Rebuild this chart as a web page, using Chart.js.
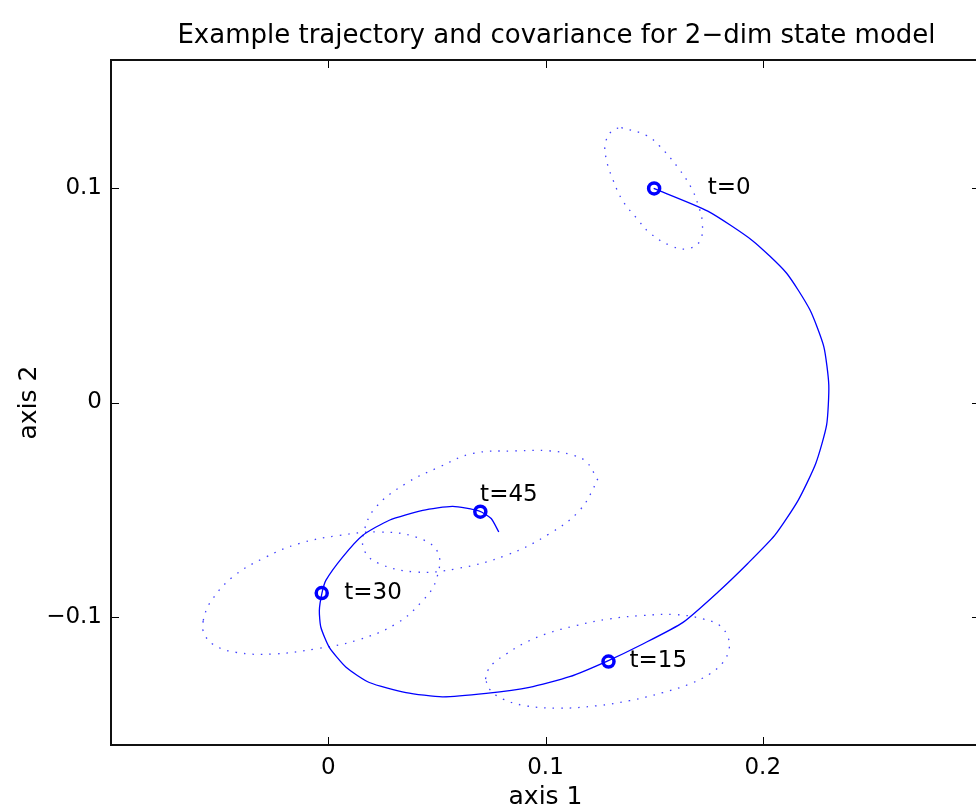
<!DOCTYPE html>
<html>
<head>
<meta charset="utf-8">
<script src="https://cdn.jsdelivr.net/npm/chart.js@4/dist/chart.umd.min.js"></script>
<style>
  html, body { margin: 0; padding: 0; background: #fff; overflow: hidden; }
  #wrap { width: 976px; height: 811px; overflow: hidden; }
</style>
</head>
<body>
<div id="wrap"><canvas id="chart" width="1091" height="811"></canvas></div>
<script>
// trajectory of the state (axis 1, axis 2)
var trajX = [0.1498, 0.1747, 0.1953, 0.2109, 0.2217, 0.2281, 0.2304, 0.2294, 0.2244, 0.2163,
  0.2055, 0.1931, 0.1802, 0.1633, 0.1448, 0.1282, 0.1111, 0.0926, 0.0727, 0.0525,
  0.0358, 0.0189, 0.0082, 0.0005, -0.0034, -0.0041, -0.0029, -0.0011, 0.0066, 0.0158,
  0.0281, 0.0435, 0.0573, 0.0696, 0.0750, 0.0785];
var trajY = [0.1000, 0.0894, 0.0756, 0.0605, 0.0433, 0.0261, 0.0082, -0.0105, -0.0285, -0.0457,
  -0.0621, -0.0752, -0.0878, -0.1027, -0.1128, -0.1209, -0.1281, -0.1331, -0.1359, -0.1375,
  -0.1355, -0.1308, -0.1237, -0.1144, -0.1050, -0.0972, -0.0891, -0.0831, -0.0722, -0.0621,
  -0.0550, -0.0504, -0.0485, -0.0508, -0.0542, -0.0605];

// marked time steps
var markX = [0.150, 0.129, -0.003, 0.070];
var markY = [0.100, -0.121, -0.089, -0.051];
var labelText = ["t=0", "t=15", "t=30", "t=45"];
var labelX = [0.1747, 0.1387, 0.0074, 0.0699];
var labelY = [0.100, -0.121, -0.089, -0.0433];

// covariance ellipses (dotted)
var ell0X = [0.1349, 0.1464, 0.1525, 0.1610, 0.1671, 0.1702, 0.1722, 0.1710, 0.1653, 0.1575,
  0.1479, 0.1418, 0.1356, 0.1310, 0.1280, 0.1276, 0.1310, 0.1349];
var ell0Y = [0.1284, 0.1248, 0.1198, 0.1097, 0.1003, 0.0925, 0.0839, 0.0753, 0.0718, 0.0733,
  0.0793, 0.0863, 0.0941, 0.1042, 0.1136, 0.1214, 0.1273, 0.1284];

var ell15X = [0.0724, 0.0734, 0.0765, 0.0819, 0.0895, 0.1003, 0.1141, 0.1295, 0.1448, 0.1602,
  0.1725, 0.1802, 0.1840, 0.1845, 0.1817, 0.1756, 0.1664, 0.1541, 0.1387, 0.1234,
  0.1065, 0.0911, 0.0803, 0.0742, 0.0724];
var ell15Y = [-0.1292, -0.1253, -0.1214, -0.1175, -0.1128, -0.1081, -0.1042, -0.1011, -0.0995, -0.0991,
  -0.1011, -0.1042, -0.1097, -0.1151, -0.1214, -0.1268, -0.1315, -0.1355, -0.1393, -0.1417,
  -0.1428, -0.1417, -0.1385, -0.1339, -0.1292];

var ell30X = [-0.0576, -0.0548, -0.0441, -0.0287, -0.0134, 0.0051, 0.0235, 0.0404, 0.0504, 0.0496,
  0.0435, 0.0312, 0.0128, -0.0057, -0.0257, -0.0425, -0.0533, -0.0576, -0.0576];
var ell30Y = [-0.1019, -0.0941, -0.0816, -0.0722, -0.0659, -0.0621, -0.0605, -0.0629, -0.0699, -0.0831,
  -0.0925, -0.1034, -0.1112, -0.1151, -0.1175, -0.1167, -0.1128, -0.1066, -0.1019];

var ell45X = [0.1241, 0.1188, 0.1126, 0.1018, 0.0865, 0.0665, 0.0512, 0.0358, 0.0220, 0.0166,
  0.0166, 0.0235, 0.0404, 0.0588, 0.0819, 0.1018, 0.1157, 0.1241];
var ell45Y = [-0.0363, -0.0277, -0.0246, -0.0226, -0.0226, -0.0238, -0.0301, -0.0378, -0.0488, -0.0597,
  -0.0691, -0.0753, -0.0792, -0.0777, -0.0714, -0.0613, -0.0504, -0.0363];

var xTicks = [0, 0.1, 0.2];
var yTicks = [-0.1, 0, 0.1];

var titleText = "Example trajectory and covariance for 2\u2212dim state model";
var xLabel = "axis 1";
var yLabel = "axis 2";

var FONT = "'DejaVu Sans', sans-serif";

function pts(xs, ys) {
  var out = [];
  for (var i = 0; i < xs.length; i++) out.push({ x: xs[i], y: ys[i] });
  return out;
}

function ellipseSet(xs, ys) {
  return {
    data: pts(xs, ys),
    showLine: true,
    borderColor: "rgba(30,30,255,0.85)",
    borderWidth: 1.3,
    borderDash: [1.5, 7],
    pointRadius: 0,
    tension: 0.4,
    fill: false
  };
}

function tickFmt(v) {
  if (v === 0) return "0";
  return String(v).replace("-", "\u2212");
}

// box, inward ticks, title, axis labels and t= annotations
var framePlugin = {
  id: "frame",
  afterDraw: function(chart) {
    var ctx = chart.ctx;
    var a = chart.chartArea;
    var sx = chart.scales.x, sy = chart.scales.y;
    ctx.save();
    ctx.strokeStyle = "#000";
    ctx.lineWidth = 1;
    ctx.beginPath();
    xTicks.forEach(function(v) {
      var px = Math.round(sx.getPixelForValue(v)) + 0.5;
      ctx.moveTo(px, a.bottom); ctx.lineTo(px, a.bottom - 8);
      ctx.moveTo(px, a.top); ctx.lineTo(px, a.top + 8);
    });
    yTicks.forEach(function(v) {
      var py = Math.round(sy.getPixelForValue(v)) + 0.5;
      ctx.moveTo(a.left, py); ctx.lineTo(a.left + 8, py);
      ctx.moveTo(a.right, py); ctx.lineTo(a.right - 8, py);
    });
    ctx.stroke();
    ctx.lineWidth = 2;
    ctx.strokeStyle = "#111";
    ctx.strokeRect(a.left, a.top, a.right - a.left, a.bottom - a.top);

    ctx.fillStyle = "#000";
    ctx.textAlign = "center";
    ctx.textBaseline = "alphabetic";
    ctx.font = "26px " + FONT;
    ctx.fillText(titleText, (a.left + a.right) / 2 + 11, 43);
    ctx.font = "25px " + FONT;
    ctx.fillText(xLabel, (a.left + a.right) / 2, 804);
    ctx.save();
    ctx.translate(36, (a.top + a.bottom) / 2);
    ctx.rotate(-Math.PI / 2);
    ctx.fillText(yLabel, 0, 0);
    ctx.restore();

    ctx.font = "23px " + FONT;
    ctx.textAlign = "left";
    ctx.textBaseline = "middle";
    for (var i = 0; i < labelText.length; i++) {
      ctx.fillText(labelText[i], sx.getPixelForValue(labelX[i]), sy.getPixelForValue(labelY[i]));
    }
    ctx.restore();
  }
};

new Chart(document.getElementById("chart"), {
  type: "scatter",
  data: {
    datasets: [
      {
        data: pts(trajX, trajY),
        showLine: true,
        borderColor: "#0000ff",
        borderWidth: 1.3,
        pointRadius: 0,
        tension: 0.2,
        fill: false
      },
      ellipseSet(ell0X, ell0Y),
      ellipseSet(ell15X, ell15Y),
      ellipseSet(ell30X, ell30Y),
      ellipseSet(ell45X, ell45Y),
      {
        data: pts(markX, markY),
        showLine: false,
        pointRadius: 5.5,
        pointBorderWidth: 3.5,
        pointBorderColor: "#0000ff",
        pointBackgroundColor: "rgba(0,0,0,0)"
      }
    ]
  },
  options: {
    responsive: false,
    animation: false,
    devicePixelRatio: 1,
    layout: { padding: { left: 0, top: 60, right: 111, bottom: 0 } },
    plugins: { legend: { display: false }, tooltip: { enabled: false }, title: { display: false } },
    scales: {
      x: {
        type: "linear",
        min: -0.1,
        max: 0.3,
        afterBuildTicks: function(scale) { scale.ticks = xTicks.map(function(v) { return { value: v }; }); },
        afterFit: function(scale) { scale.height = 66; },
        grid: { display: false, drawTicks: false },
        border: { display: false },
        ticks: { color: "#000", font: { family: FONT, size: 23 }, padding: 9, maxRotation: 0, callback: tickFmt }
      },
      y: {
        type: "linear",
        min: -0.16,
        max: 0.16,
        afterBuildTicks: function(scale) { scale.ticks = yTicks.map(function(v) { return { value: v }; }); },
        afterFit: function(scale) { scale.width = 111; },
        grid: { display: false, drawTicks: false },
        border: { display: false },
        ticks: { color: "#000", font: { family: FONT, size: 23 }, padding: 9, callback: tickFmt }
      }
    }
  },
  plugins: [framePlugin]
});
</script>
</body>
</html>
